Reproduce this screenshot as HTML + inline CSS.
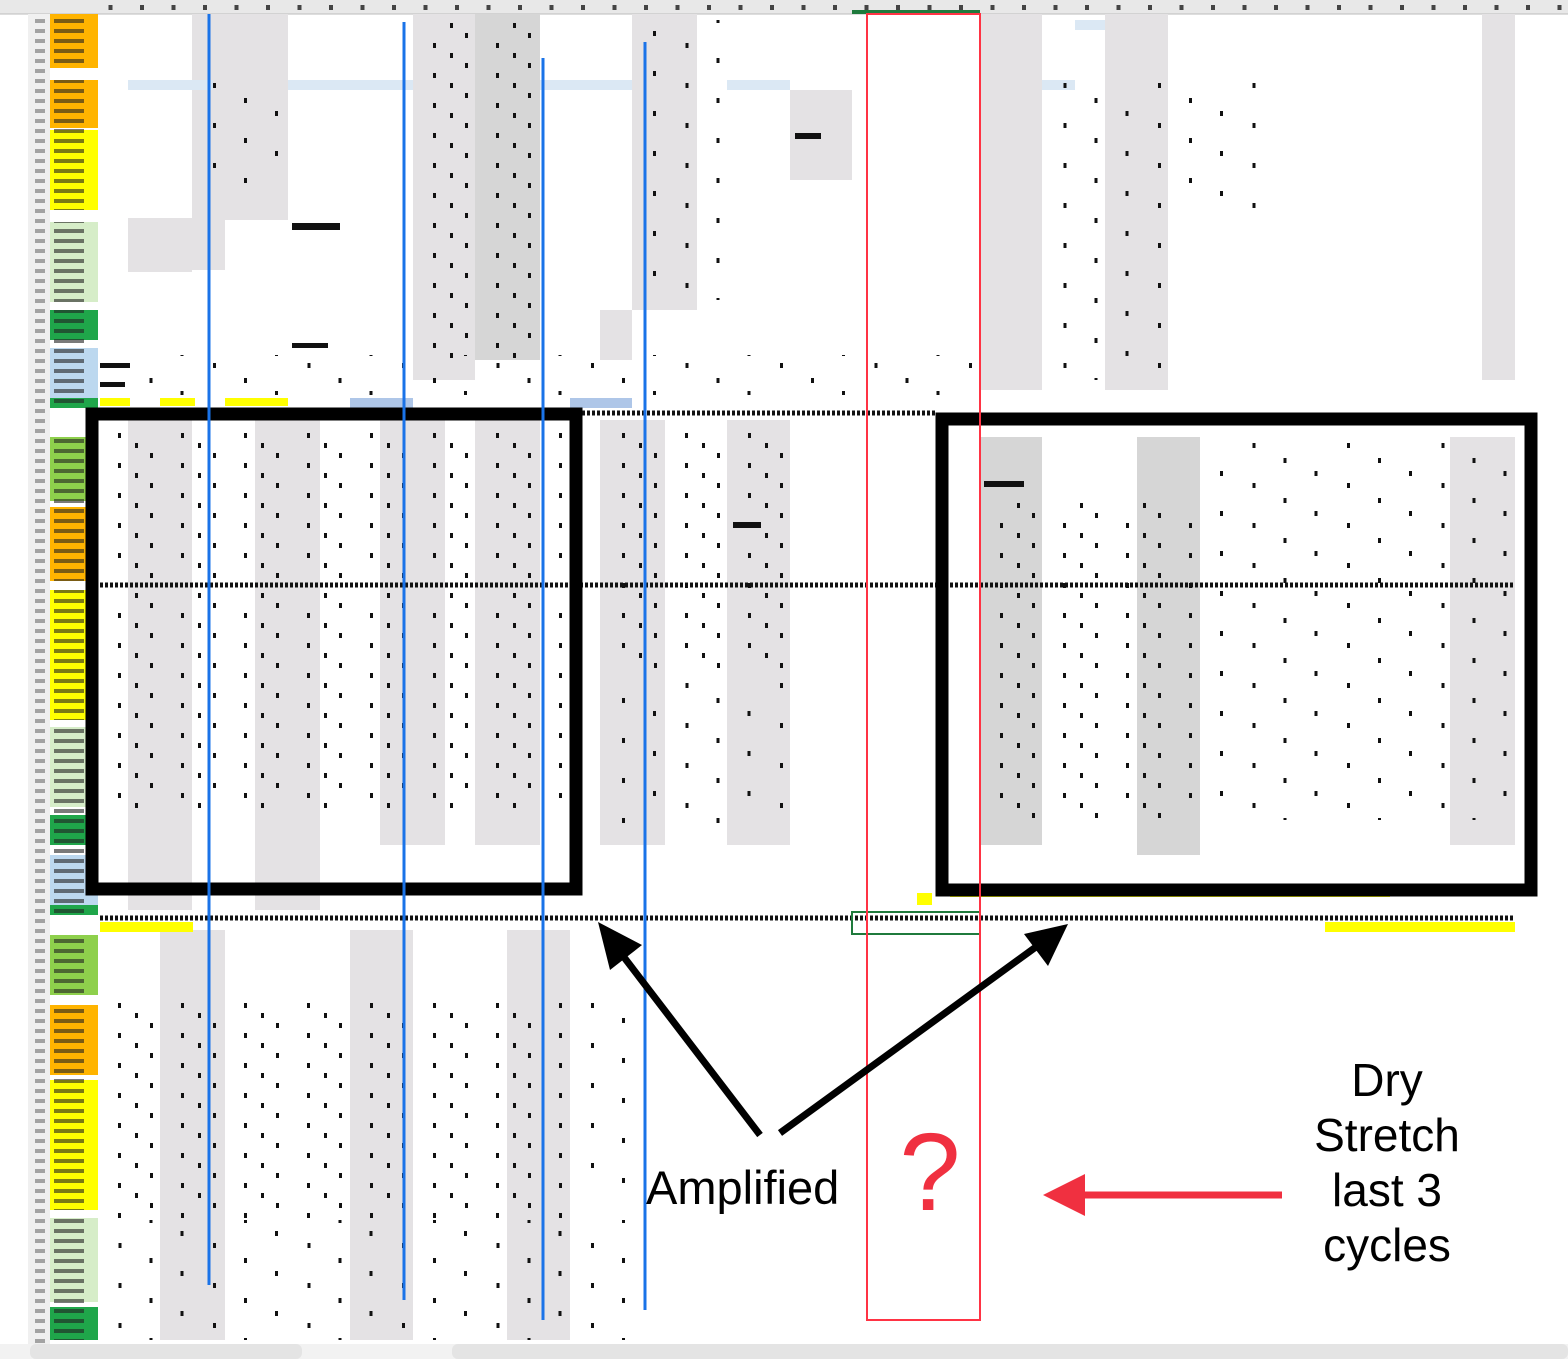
<!DOCTYPE html>
<html><head><meta charset="utf-8"><style>
html,body{margin:0;padding:0;background:#fff;}
svg{display:block;}
.t{font-family:"Liberation Sans",sans-serif;}
</style></head><body>
<svg width="1568" height="1359" viewBox="0 0 1568 1359" xmlns="http://www.w3.org/2000/svg">
<defs>
<pattern id="lbl" x="52" y="16" width="46" height="10" patternUnits="userSpaceOnUse">
<rect x="2" y="3" width="30" height="4" fill="#222" opacity="0.6"/>
</pattern>
<pattern id="rn" x="30" y="16" width="20" height="10" patternUnits="userSpaceOnUse">
<rect x="5" y="3" width="10" height="4" fill="#555" opacity="0.5"/>
</pattern>
<pattern id="hd" x="0" y="0" width="31.5" height="14" patternUnits="userSpaceOnUse">
<rect x="14" y="5" width="4" height="5" fill="#444"/>
</pattern>
<pattern id="dat2" x="0" y="0" width="63" height="30" patternUnits="userSpaceOnUse">
<rect x="24" y="3" width="3" height="5" fill="#111"/>
<rect x="55" y="13" width="3" height="5" fill="#111"/>
<rect x="9" y="23" width="3" height="5" fill="#111"/>
</pattern>
<pattern id="dat3" x="0" y="0" width="94.5" height="40" patternUnits="userSpaceOnUse">
<rect x="24" y="3" width="3" height="5" fill="#111"/>
<rect x="55" y="18" width="3" height="5" fill="#111"/>
<rect x="86" y="31" width="3" height="5" fill="#111"/>
</pattern>
</defs>
<rect width="1568" height="1359" fill="#fff"/>
<rect x="0" y="0" width="1568" height="14" fill="#e8e8e8"/>
<rect x="100" y="0" width="1468" height="14" fill="url(#hd)"/>
<line x1="0" y1="14" x2="1568" y2="14" stroke="#bbb"/>
<rect x="852" y="10" width="128" height="4" fill="#1f7a3c"/>
<rect x="28" y="14" width="22" height="1330" fill="#f0f0f0"/>
<rect x="28" y="14" width="22" height="1330" fill="url(#rn)"/>
<g>
<rect x="50" y="14" width="48" height="54" fill="#ffb400"/>
<rect x="50" y="80" width="48" height="48" fill="#ffb400"/>
<rect x="50" y="130" width="48" height="80" fill="#ffff00"/>
<rect x="50" y="222" width="48" height="80" fill="#d6edc8"/>
<rect x="50" y="310" width="48" height="30" fill="#1fa64a"/>
<rect x="50" y="348" width="48" height="50" fill="#bcd8ef"/>
<rect x="50" y="398" width="48" height="10" fill="#1fa64a"/>
<rect x="50" y="437" width="48" height="64" fill="#8ed04c"/>
<rect x="50" y="507" width="48" height="74" fill="#ffb400"/>
<rect x="50" y="590" width="48" height="130" fill="#ffff00"/>
<rect x="50" y="727" width="48" height="80" fill="#d6edc8"/>
<rect x="50" y="815" width="48" height="30" fill="#1fa64a"/>
<rect x="50" y="855" width="48" height="50" fill="#bcd8ef"/>
<rect x="50" y="905" width="48" height="10" fill="#1fa64a"/>
<rect x="50" y="935" width="48" height="60" fill="#8ed04c"/>
<rect x="50" y="1005" width="48" height="70" fill="#ffb400"/>
<rect x="50" y="1080" width="48" height="130" fill="#ffff00"/>
<rect x="50" y="1218" width="48" height="84" fill="#d6edc8"/>
<rect x="50" y="1307" width="48" height="33" fill="#1fa64a"/>
</g>
<g fill="url(#lbl)">
<rect x="50" y="14" width="48" height="54"/><rect x="50" y="80" width="48" height="130"/>
<rect x="50" y="222" width="48" height="80"/><rect x="50" y="310" width="48" height="98"/>
<rect x="50" y="437" width="48" height="144"/><rect x="50" y="590" width="48" height="130"/>
<rect x="50" y="727" width="48" height="188"/><rect x="50" y="935" width="48" height="60"/>
<rect x="50" y="1005" width="48" height="205"/><rect x="50" y="1218" width="48" height="122"/>
</g>
<g fill="#e4e2e4">
<rect x="192" y="14" width="33" height="256"/>
<rect x="225" y="14" width="63" height="206"/>
<rect x="413" y="14" width="62" height="366"/>
<rect x="632" y="14" width="65" height="296"/>
<rect x="790" y="90" width="62" height="90"/>
<rect x="980" y="14" width="62" height="376"/>
<rect x="1105" y="14" width="63" height="376"/>
<rect x="1482" y="14" width="33" height="366"/>
<rect x="128" y="218" width="64" height="54"/>
<rect x="600" y="310" width="32" height="50"/>
<rect x="128" y="420" width="64" height="490"/>
<rect x="255" y="420" width="65" height="490"/>
<rect x="380" y="420" width="65" height="425"/>
<rect x="475" y="420" width="65" height="425"/>
<rect x="600" y="420" width="65" height="425"/>
<rect x="727" y="420" width="63" height="425"/>
<rect x="1450" y="437" width="65" height="408"/>
<rect x="160" y="930" width="65" height="410"/>
<rect x="350" y="930" width="63" height="410"/>
<rect x="507" y="930" width="63" height="410"/>
</g>
<g fill="#d6d6d6">
<rect x="475" y="14" width="65" height="346"/>
<rect x="980" y="437" width="62" height="408"/>
<rect x="1137" y="437" width="63" height="418"/>
</g>
<g fill="#dbe8f4">
<rect x="128" y="80" width="85" height="10"/>
<rect x="288" y="80" width="125" height="10"/>
<rect x="540" y="80" width="92" height="10"/>
<rect x="727" y="80" width="63" height="10"/>
<rect x="1042" y="80" width="33" height="10"/>
<rect x="1075" y="20" width="30" height="10"/>
</g>
<rect x="350" y="398" width="63" height="10" fill="#aec6e8"/>
<rect x="570" y="398" width="62" height="10" fill="#aec6e8"/>
<!-- data texture -->
<g fill="url(#dat2)">
<rect x="100" y="430" width="470" height="150"/>
<rect x="100" y="592" width="470" height="220"/>
<rect x="413" y="20" width="130" height="340"/>
<rect x="100" y="1000" width="470" height="220"/>
<rect x="980" y="500" width="220" height="320"/>
<rect x="600" y="430" width="190" height="240"/>
</g>
<g fill="url(#dat3)">
<rect x="192" y="80" width="96" height="110"/>
<rect x="1200" y="440" width="310" height="380"/>
<rect x="100" y="1220" width="540" height="120"/>
<rect x="570" y="1000" width="70" height="200"/>
<rect x="632" y="20" width="100" height="280"/>
<rect x="1042" y="80" width="120" height="300"/>
<rect x="1170" y="80" width="100" height="130"/>
<rect x="100" y="355" width="880" height="40"/>
<rect x="600" y="680" width="190" height="150"/>
</g>
<g fill="#ffff00">
<rect x="100" y="398" width="30" height="8"/>
<rect x="160" y="398" width="35" height="8"/>
<rect x="225" y="398" width="63" height="8"/>
<rect x="100" y="922" width="93" height="10"/>
<rect x="1325" y="922" width="190" height="10"/>
<rect x="950" y="891" width="440" height="6"/>
<rect x="917" y="893" width="15" height="12"/>
</g>
<g stroke="#111" stroke-width="5" stroke-dasharray="3 2">
<line x1="582" y1="413" x2="935" y2="413"/>
<line x1="100" y1="585" x2="1515" y2="585"/>
<line x1="100" y1="918" x2="1515" y2="918"/>
</g>
<g fill="#111">
<rect x="795" y="133" width="26" height="6"/><rect x="292" y="223" width="48" height="7"/>
<rect x="292" y="343" width="36" height="5"/><rect x="984" y="481" width="40" height="6"/>
<rect x="733" y="522" width="28" height="6"/><rect x="100" y="363" width="30" height="5"/>
<rect x="100" y="382" width="25" height="5"/>
</g>
<rect x="92" y="414" width="484" height="475" fill="none" stroke="#000" stroke-width="13"/>
<rect x="942" y="419" width="589" height="471" fill="none" stroke="#000" stroke-width="13"/>
<g stroke="#1a73e8" stroke-width="3">
<line x1="209" y1="14" x2="209" y2="1285"/>
<line x1="404" y1="22" x2="404" y2="1300"/>
<line x1="543" y1="58" x2="543" y2="1320"/>
<line x1="645" y1="42" x2="645" y2="1310"/>
</g>
<rect x="852" y="912" width="128" height="22" fill="none" stroke="#1f7a3c" stroke-width="2"/>
<rect x="867" y="14" width="113" height="1306" fill="none" stroke="#ff3344" stroke-width="2"/>
<g stroke="#000" stroke-width="7" fill="#000">
<line x1="760" y1="1135" x2="620" y2="952"/>
<line x1="780" y1="1133" x2="1040" y2="944"/>
</g>
<polygon points="598,922 642,945 610,970" fill="#000"/>
<polygon points="1068,924 1048,966 1024,934" fill="#000"/>
<line x1="1282" y1="1195" x2="1080" y2="1195" stroke="#f03040" stroke-width="7"/>
<polygon points="1043,1195 1085,1174 1085,1216" fill="#f03040"/>
<text x="930" y="1210" class="t" font-size="110" fill="#f03040" text-anchor="middle">?</text>
<text x="646" y="1204" class="t" font-size="47" fill="#000">Amplified</text>
<g class="t" font-size="46" fill="#000" text-anchor="middle">
<text x="1387" y="1096">Dry</text>
<text x="1387" y="1151">Stretch</text>
<text x="1387" y="1206">last 3</text>
<text x="1387" y="1261">cycles</text>
</g>
<rect x="0" y="1344" width="1568" height="15" fill="#f2f2f2"/>
<rect x="30" y="1344" width="272" height="15" rx="6" fill="#e4e4e4"/>
<rect x="452" y="1344" width="1116" height="15" rx="6" fill="#e4e4e4"/>
</svg>
</body></html>
